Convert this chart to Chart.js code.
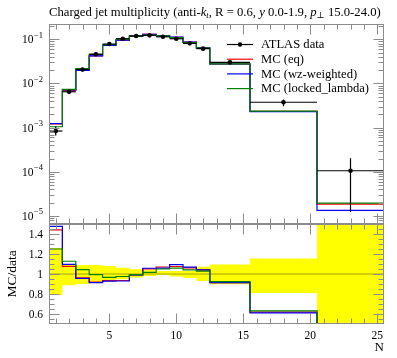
<!DOCTYPE html>
<html>
<head>
<meta charset="utf-8">
<script src="https://cdn.jsdelivr.net/npm/chart.js@4"></script>
<style>
body{margin:0;background:#fff;}
#wrap{position:relative;width:397px;height:358px;}
canvas{position:absolute;left:0;}
#main{top:0;}
#ratio{top:224px;}
</style>
</head>
<body>
<div id="wrap">
<canvas id="main" width="397" height="226"></canvas>
<canvas id="ratio" width="397" height="134"></canvas>
</div>
<script>
const FONT='"Liberation Serif","DejaVu Serif",serif';

// bins (N)
const binEdges=[0.5,1.5,2.5,3.5,4.5,5.5,6.5,7.5,8.5,9.5,10.5,11.5,12.5,15.5,20.5,25.5];
const binCentres=[1,2,3,4,5,6,7,8,9,10,11,12,14,18,23];
// ATLAS data + relative error
const atlasData=[8.4e-4,6.5e-3,0.0207,0.046,0.078,0.103,0.119,0.123,0.114,0.103,0.081,0.0615,0.0302,3.76e-3,1.06e-4];
const errHi=[1.26,1.10,1.09,1.09,1.08,1.062,1.047,1.04,1.03,1.03,1.03,1.072,1.096,1.155,1.92];
const errLo=[0.79,0.887,0.90,0.91,0.93,0.948,0.965,0.98,0.99,0.975,0.96,0.93,0.897,0.81,0.116];
// MC
const mcEq=[1.21e-3,7.0e-3,0.0199,0.0423,0.0729,0.0963,0.1178,0.1292,0.122,0.1107,0.0859,0.064,0.0276,2.33e-3,1.86e-5];
const mcWz=[1.24e-3,7.12e-3,0.0198,0.042,0.0725,0.0958,0.1178,0.1301,0.1206,0.1126,0.0865,0.064,0.0276,2.30e-3,1.34e-5];
const mcLocked=[1.05e-3,7.33e-3,0.0216,0.0457,0.0753,0.1004,0.1182,0.125,0.1197,0.109,0.0843,0.0633,0.0279,2.37e-3,1.96e-5];
const mcNames=['MC (eq)','MC (wz-weighted)','MC (locked_lambda)'];
const mcColors=['#ff0000','#0000ff','#008000'];
// ticks
const xTickLabels=[5,10,15,20,25];
const logTickExps=[-1,-2,-3,-4,-5];
const ratioTickLabels=[0.6,0.8,1,1.2,1.4];

const hist=v=>binEdges.map((e,i)=>({x:e,y:v[Math.min(i,v.length-1)]}));
const stepLine=(v,col,w,ord)=>({type:'line',data:hist(v),stepped:true,borderColor:col,borderWidth:w,pointRadius:0,fill:false,order:ord});

function seg(ctx,x1,y1,x2,y2){ctx.beginPath();ctx.moveTo(x1,y1);ctx.lineTo(x2,y2);ctx.stroke();}

// frame + inward ticks
function drawFrame(chart,yTicks){
  const {ctx,chartArea:a,scales:{x,y}}=chart;
  ctx.save();
  ctx.strokeStyle='#8c8c8c';ctx.lineWidth=1;
  const L=Math.round(a.left)+.5,R=Math.round(a.right)-.5,T=Math.round(a.top)+.5,B=Math.round(a.bottom)-.5;
  ctx.strokeRect(L,T,R-L,B-T);
  for(let n=1;n<=25;n++){
    const px=Math.round(x.getPixelForValue(n))+.5, len=n%5==0?10:5;
    seg(ctx,px,T,px,T+len);seg(ctx,px,B,px,B-len);
  }
  yTicks.forEach(t=>{
    const py=Math.round(y.getPixelForValue(t.v))+.5;
    if(py<T||py>B) return;
    seg(ctx,L,py,L+t.len,py);seg(ctx,R,py,R-t.len,py);
  });
  ctx.restore();
}

const topTicks=[];
for(let e=-6;e<=0;e++) for(let m=1;m<=9;m++) topTicks.push({v:m*Math.pow(10,e),len:m==1?10:5});
const ratioTicks=[];
for(let k=10;k<=30;k++) ratioTicks.push({v:k*0.05,len:k%4==0?10:5});

const topPlugin={
  id:'topDeco',
  afterDatasetsDraw(chart){
    const {ctx,chartArea:a,scales:{x,y}}=chart;
    ctx.save();
    ctx.beginPath();ctx.rect(a.left,a.top,a.right-a.left,a.bottom-a.top);ctx.clip();
    ctx.strokeStyle='#000';ctx.fillStyle='#000';ctx.lineWidth=1.2;
    atlasData.forEach((v,i)=>{
      const py=y.getPixelForValue(v), px=x.getPixelForValue(binCentres[i]);
      seg(ctx,x.getPixelForValue(binEdges[i]),py,x.getPixelForValue(binEdges[i+1]),py);
      seg(ctx,px,y.getPixelForValue(v*errHi[i]),px,y.getPixelForValue(v*errLo[i]));
      ctx.beginPath();ctx.arc(px,py,2.3,0,Math.PI*2);ctx.fill();
    });
    ctx.restore();
  },
  afterDraw(chart){
    const {ctx,scales:{y}}=chart;
    drawFrame(chart,topTicks);
    ctx.save();
    // y tick labels 10^e
    ctx.fillStyle='#000';ctx.textBaseline='middle';ctx.textAlign='left';
    logTickExps.forEach(e=>{
      const py=y.getPixelForValue(Math.pow(10,e));
      ctx.font='8.5px '+FONT;
      const sup='\u2212'+Math.abs(e), sw=ctx.measureText(sup).width;
      ctx.font='11.5px '+FONT;
      const bw=ctx.measureText('10').width;
      const x0=43-sw-bw-0.5;
      ctx.fillText('10',x0,py+1);
      ctx.font='8.5px '+FONT;
      ctx.fillText(sup,x0+bw+0.5,py-4);
    });
    // title, sized to span the plot width
    const segs=[['Charged jet multiplicity (anti-',''],['k','italic '],['t','italic ',1],[', R = 0.6, ',''],['y','italic '],[' 0.0-1.9, ',''],['p','italic '],['\u22A5','',1],[' 15.0-24.0)','']];
    ctx.textBaseline='alphabetic';
    const widthAt=s=>segs.reduce((w,g)=>{ctx.font=g[1]+(g[2]?s*0.68:s)+'px '+FONT;return w+ctx.measureText(g[0]).width;},0);
    const tsz=12*332/widthAt(12);
    let tx=49;
    segs.forEach(g=>{
      const sz=g[2]?tsz*0.68:tsz;
      ctx.font=g[1]+sz+'px '+FONT;
      ctx.fillText(g[0],tx,g[2]?18:15.5);
      tx+=ctx.measureText(g[0]).width;
    });
    // legend
    const ly=44.5, step=14.7;
    ctx.font='12.6px '+FONT;ctx.textBaseline='middle';
    ctx.lineWidth=1.2;
    ctx.strokeStyle='#000';seg(ctx,227,ly,253,ly);
    ctx.beginPath();ctx.arc(240,ly,2.3,0,Math.PI*2);ctx.fill();
    ctx.fillText('ATLAS data',261,ly+0.5);
    mcNames.forEach((nm,i)=>{
      const yy=ly+step*(i+1);
      ctx.strokeStyle=mcColors[i];seg(ctx,227,yy,253,yy);
      ctx.fillStyle='#000';ctx.fillText(nm,261,yy+0.5);
    });
    ctx.restore();
  }
};

const ratioPlugin={
  id:'ratioDeco',
  afterDraw(chart){
    const {ctx,scales:{x,y}}=chart;
    drawFrame(chart,ratioTicks);
    ctx.save();
    ctx.fillStyle='#000';ctx.font='11.5px '+FONT;
    ctx.textAlign='right';ctx.textBaseline='middle';
    ratioTickLabels.forEach(v=>ctx.fillText(String(v),43,y.getPixelForValue(v)+0.5));
    ctx.textAlign='center';
    xTickLabels.forEach(v=>ctx.fillText(String(v),x.getPixelForValue(v),112));
    ctx.textAlign='right';ctx.font='13px '+FONT;
    ctx.fillText('N',384,123.5);
    ctx.translate(12,50);ctx.rotate(-Math.PI/2);ctx.textAlign='center';
    ctx.font='13.5px '+FONT;
    ctx.fillText('MC/data',0,0);
    ctx.restore();
  }
};

const baseOpts=(pad,yScale)=>({
  responsive:false,animation:false,events:[],
  layout:{padding:pad},
  plugins:{legend:{display:false},tooltip:{enabled:false},title:{display:false}},
  scales:{x:{type:'linear',min:0.5,max:25.5,display:false},y:Object.assign({display:false},yScale)}
});

new Chart(document.getElementById('main'),{
  type:'line',
  data:{datasets:[
    stepLine(mcLocked,mcColors[2],1.2,1),
    stepLine(mcWz,mcColors[1],1.2,2),
    stepLine(mcEq,mcColors[0],1.2,3)
  ]},
  options:baseOpts({left:49,right:13,top:24,bottom:2},{type:'logarithmic',min:6.6e-6,max:0.222}),
  plugins:[topPlugin]
});

const ratioOf=arr=>arr.map((v,i)=>v/atlasData[i]);
new Chart(document.getElementById('ratio'),{
  type:'line',
  data:{datasets:[
    {type:'line',data:hist(errLo),stepped:true,borderWidth:0,pointRadius:0,fill:false,order:10},
    {type:'line',data:hist(errHi),stepped:true,borderWidth:0,pointRadius:0,fill:'-1',backgroundColor:'#ffff00',order:9},
    stepLine(atlasData.map(()=>1),'#a4a400',1,8),
    stepLine(ratioOf(mcLocked),mcColors[2],1.2,1),
    stepLine(ratioOf(mcWz),mcColors[1],1.2,2),
    stepLine(ratioOf(mcEq),mcColors[0],1.2,3)
  ]},
  options:baseOpts({left:49,right:13,top:0,bottom:34},{type:'linear',min:0.5,max:1.5}),
  plugins:[ratioPlugin]
});
</script>
</body>
</html>
